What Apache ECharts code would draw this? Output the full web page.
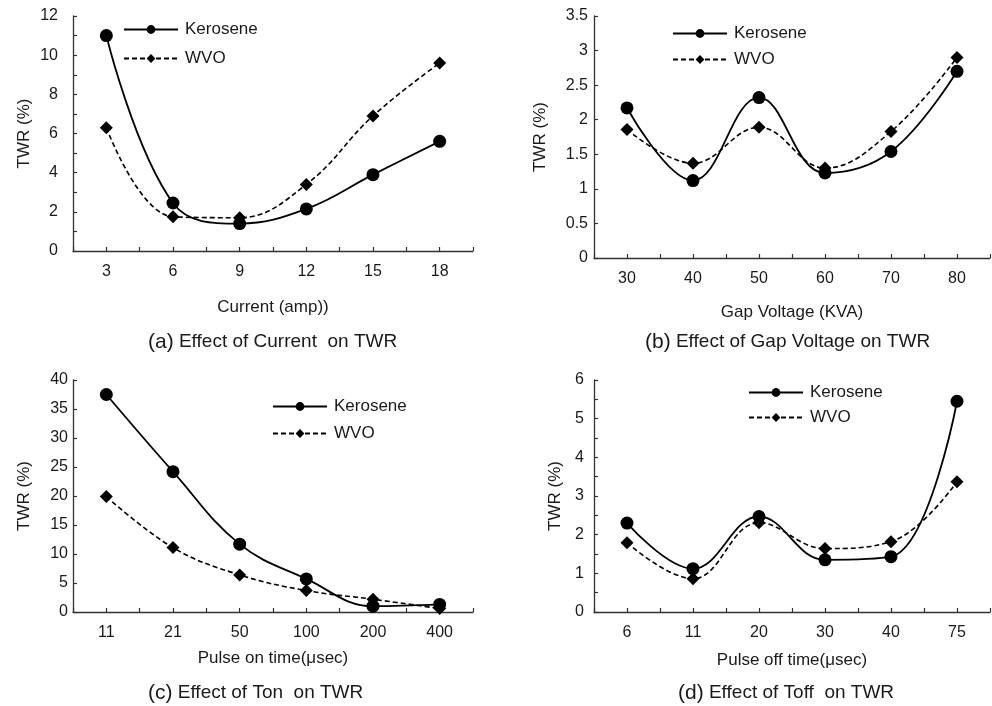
<!DOCTYPE html>
<html><head><meta charset="utf-8">
<script src="https://cdn.jsdelivr.net/npm/echarts@6/dist/echarts.min.js"></script>
<style>html,body{margin:0;padding:0;background:#fff}#c{width:992px;height:706px}</style>
</head><body><div id="c"></div>
<script>
// ---- data ----
const seriesNames = ['Kerosene', 'WVO'];
const catsA = ['3', '6', '9', '12', '15', '18'];
const kerA = [11.0, 2.45, 1.4, 2.15, 3.9, 5.6];
const wvoA = [6.3, 1.75, 1.7, 3.4, 6.9, 9.6];
const catsB = ['30', '40', '50', '60', '70', '80'];
const kerB = [2.17, 1.12, 2.32, 1.23, 1.54, 2.70];
const wvoB = [1.86, 1.37, 1.89, 1.30, 1.83, 2.90];
const catsC = ['11', '21', '50', '100', '200', '400'];
const kerC = [37.5, 24.2, 11.7, 5.7, 1.0, 1.3];
const wvoC = [19.9, 11.1, 6.4, 3.7, 2.2, 0.6];
const catsD = ['6', '11', '20', '30', '40', '75'];
const kerD = [2.30, 1.12, 2.47, 1.35, 1.43, 5.45];
const wvoD = [1.79, 0.86, 2.31, 1.64, 1.82, 3.37];
const yMax = [12, 3.5, 40, 6];
const yInterval = [2, 0.5, 5, 1];
const yName = 'TWR (%)';
const xNames = ['Current (amp))', 'Gap Voltage (KVA)', 'Pulse on time(μsec)', 'Pulse off time(μsec)'];
const captionTags = ['(a)', '(b)', '(c)', '(d)'];
const captionTexts = [' Effect of Current  on TWR', ' Effect of Gap Voltage on TWR', ' Effect of Ton  on TWR', ' Effect of Toff  on TWR'];

// ---- layout ----
const FONT = "'Liberation Sans', Arial, sans-serif";
const TXT = '#1a1a1a';
const AX = '#333';
const cats = [catsA, catsB, catsC, catsD];
const kers = [kerA, kerB, kerC, kerD];
const wvos = [wvoA, wvoB, wvoC, wvoD];
const grids = [
  {left: 73, top: 16, width: 400, height: 235},
  {left: 594, top: 16, width: 396, height: 242},
  {left: 73, top: 380, width: 400, height: 232},
  {left: 594, top: 380, width: 396, height: 232}
];
const minor = [true, false, false, true];
const yLabelMargin = [15, 6, 5, 10];
const yNameGap = [40, 45, 40, 30];
const xNameGap = [48, 46, 38, 40];
const legendPos = [
  {left: 123, top: 21, itemGap: 12},
  {left: 672, top: 25, itemGap: 9},
  {left: 272, top: 398, itemGap: 10},
  {left: 748, top: 384, itemGap: 8}
];
const captionPos = [[148, 342], [645, 342], [148, 693], [678, 693]];

const xAxis = [], yAxis = [], series = [], legend = [], graphic = [];
for (let i = 0; i < 4; i++) {
  xAxis.push({
    type: 'category', gridIndex: i, data: cats[i], boundaryGap: true,
    axisLine: {show: true, lineStyle: {color: AX, width: 1.3}},
    axisTick: {show: true, inside: true, length: 4, lineStyle: {color: AX, width: 1.2}},
    axisLabel: {color: TXT, fontSize: 16, fontFamily: FONT, margin: 13, interval: 0},
    splitLine: {show: false},
    name: xNames[i], nameLocation: 'middle', nameGap: xNameGap[i],
    nameTextStyle: {color: TXT, fontSize: 17, fontFamily: FONT}
  });
  // second axis: ticks at category centres
  xAxis.push({
    type: 'category', gridIndex: i, data: cats[i], boundaryGap: true, position: 'bottom',
    axisLine: {show: false},
    axisTick: {show: true, inside: true, alignWithLabel: true, length: 4, lineStyle: {color: AX, width: 1.2}},
    axisLabel: {show: false}, splitLine: {show: false}
  });
  yAxis.push({
    type: 'value', gridIndex: i, min: 0, max: yMax[i], interval: yInterval[i],
    axisLine: {show: true, lineStyle: {color: AX, width: 1.3}},
    axisTick: {show: true, inside: true, length: 4, lineStyle: {color: AX, width: 1.2}},
    minorTick: {show: minor[i], splitNumber: 2, length: 4, lineStyle: {color: AX, width: 1.2}},
    minorSplitLine: {show: false},
    axisLabel: {color: TXT, fontSize: 16, fontFamily: FONT, margin: yLabelMargin[i]},
    splitLine: {show: false},
    name: yName, nameLocation: 'middle', nameGap: yNameGap[i],
    nameTextStyle: {color: TXT, fontSize: 17, fontFamily: FONT}
  });
  series.push({
    name: seriesNames[0], type: 'line', xAxisIndex: i * 2, yAxisIndex: i, data: kers[i],
    smooth: 0.4, symbol: 'circle', symbolSize: 13,
    itemStyle: {color: '#000'}, lineStyle: {color: '#000', width: 1.8}, z: 3
  });
  series.push({
    name: seriesNames[1], type: 'line', xAxisIndex: i * 2, yAxisIndex: i, data: wvos[i],
    smooth: 0.4, symbol: 'diamond', symbolSize: 13,
    itemStyle: {color: '#000'}, lineStyle: {color: '#000', width: 1.6, type: [5, 3]}, z: 2
  });
  legend.push(Object.assign({
    orient: 'vertical', data: seriesNames, itemWidth: 54, itemHeight: 11, padding: 0,
    textStyle: {color: TXT, fontSize: 17, fontFamily: FONT, padding: [0, 0, 0, 2]},
    selectedMode: false
  }, legendPos[i]));
  graphic.push({
    type: 'text', x: captionPos[i][0], y: captionPos[i][1],
    style: {
      text: '{t|' + captionTags[i] + '}{b|' + captionTexts[i] + '}',
      verticalAlign: 'middle', align: 'left',
      rich: {
        t: {fontSize: 21, fontFamily: FONT, fill: TXT},
        b: {fontSize: 19, fontFamily: FONT, fill: TXT}
      }
    }
  });
}

const chart = echarts.init(document.getElementById('c'), null, {renderer: 'canvas'});
chart.setOption({
  animation: false,
  backgroundColor: '#fff',
  grid: grids,
  xAxis, yAxis, series, legend, graphic
});
</script>
</body></html>
